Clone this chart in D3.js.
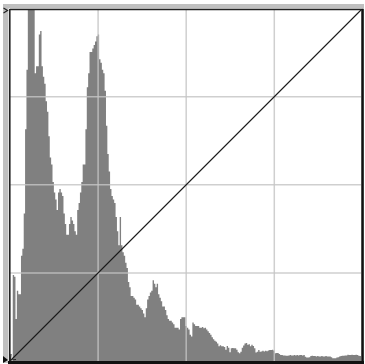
<!DOCTYPE html>
<html>
<head>
<meta charset="utf-8">
<script src="https://cdn.jsdelivr.net/npm/d3@7"></script>
<style>
html,body{margin:0;padding:0;background:#fff;}
svg{display:block;}
</style>
</head>
<body>
<svg id="chart" width="365" height="364"></svg>
<script>
// Histogram heights (percent of plot height) for the 256 tonal levels
const histValues = [
  0, 0, 24.5, 24, 12, 20, 19, 19, 30, 32,
  42, 66, 83, 115, 130, 120, 125, 110, 82, 84,
  84, 93, 94, 84, 81, 79, 74, 71, 64, 58,
  56, 51, 48, 46, 43, 48, 49, 48, 47, 42,
  39, 36, 36, 39, 41, 40, 39, 37, 36, 43,
  45, 48, 51, 56, 56, 66, 78, 82, 88, 88,
  89, 90, 91, 92.5, 93, 86, 85, 83, 82, 77,
  67, 59, 54, 49, 47, 46, 45, 41, 37, 33,
  41, 33, 31, 30, 28, 26.5, 22.5, 21, 18.5, 18.5,
  18, 17.5, 16, 16, 15.5, 15, 14.5, 13.5, 12.5, 15,
  17.5, 18.5, 19.5, 20, 23, 22, 21, 22, 19, 18,
  17, 15.5, 15.5, 14.5, 13, 12, 11.5, 11.5, 11, 10.5,
  9.5, 9.5, 9.5, 9, 12, 12.5, 12.5, 12.5, 10, 9.5,
  9, 7.5, 7, 11, 10.5, 10, 10, 10, 9.5, 9.5,
  9.7, 9.3, 9.5, 9, 8.5, 8, 7.5, 6.8, 6.2, 5.8,
  5.5, 5, 4.2, 4.5, 4.2, 4.2, 4, 3.2, 4.3, 3.8,
  2.5, 3.6, 3.7, 3.6, 3.6, 3.2, 2.5, 2.2, 2.6, 3.8,
  4.4, 5, 5.1, 4.6, 4.8, 4.2, 4.6, 4.3, 3.6, 2.4,
  2.6, 3.1, 2.6,
  2.7, 2.9, 2.7, 2.9, 2.8, 3.0, 3.1, 3.1, 3.2, 3.0,
  2.2, 2.3, 2.3, 2.0,
  1.7, 1.7, 1.6, 1.6, 1.5, 1.5, 1.6, 1.7, 1.6, 1.6, 1.7, 1.6, 1.7, 1.6, 1.7,
  1.7, 1.6, 1.7, 1.2,
  1.0, 1.0, 1.1,
  1.4, 1.5, 1.4, 1.4, 1.3, 1.4, 1.3, 1.3, 1.4, 1.3, 1.3, 1.4, 1.3, 1.3, 1.3,
  1.1, 0.8, 0.8, 0.8, 1.0, 1.1,
  1.3, 1.4, 1.5, 1.5, 1.6, 1.6,
  1.8, 1.7, 1.7, 1.8, 1.7, 1.7, 1.8, 1.7, 1.5, 1.4
];
// Grid divisions (input/output levels)
const gridLevels = [64, 128, 192];
// Curve points (identity curve): [input, output]
const curvePoints = [[0, 0], [255, 255]];

const svg = d3.select("#chart");
const L = 10, R = 361, T = 10, B = 361;

const xBin = d3.scaleLinear().domain([0, histValues.length]).range([L, R]);
const yHist = d3.scaleLinear().domain([0, 100]).range([B, T]).clamp(true);
const xLev = d3.scaleLinear().domain([0, 255]).range([L, R]);
const yLev = d3.scaleLinear().domain([0, 255]).range([B, T]);

// Outer sunken frame
svg.append("rect").attr("x", 3).attr("y", 4).attr("width", 361).attr("height", 359).attr("fill", "#c0c0c0");
svg.append("rect").attr("x", 8.5).attr("y", 8.5).attr("width", 354).attr("height", 354).attr("fill", "#ffffff");
svg.append("rect").attr("x", L).attr("y", T).attr("width", R - L).attr("height", B - T).attr("fill", "#ffffff");

// Histogram
const pts = histValues.map((v, i) => [i, v]);
pts.push([histValues.length, histValues[histValues.length - 1]]);
const area = d3.area()
  .curve(d3.curveStepAfter)
  .x(d => xBin(d[0]))
  .y0(B)
  .y1(d => yHist(d[1]));
svg.append("path").datum(pts).attr("d", area).attr("fill", "#808080");

// Grid
const grid = svg.append("g").attr("stroke", "#c5c5c5").attr("stroke-opacity", 0.82).attr("stroke-width", 1.5);
grid.selectAll("line.v").data(gridLevels).join("line")
  .attr("x1", d => xLev(d)).attr("x2", d => xLev(d)).attr("y1", T).attr("y2", B);
grid.selectAll("line.h").data(gridLevels).join("line").attr("class", "h")
  .attr("y1", d => yLev(d)).attr("y2", d => yLev(d)).attr("x1", L).attr("x2", R);

// Curve
const line = d3.line().x(d => xLev(d[0])).y(d => yLev(d[1]));
svg.append("path").datum(curvePoints).attr("d", line)
  .attr("fill", "none").attr("stroke", "#1a1a1a").attr("stroke-width", 1.1);

// Inner frame lines
svg.append("line").attr("x1", L).attr("x2", R + 2).attr("y1", T - 0.5).attr("y2", T - 0.5).attr("stroke", "#222").attr("stroke-width", 1.5);
svg.append("line").attr("x1", L - 0.2).attr("x2", L - 0.2).attr("y1", T - 1).attr("y2", B + 2).attr("stroke", "#222").attr("stroke-width", 1.6);
svg.append("line").attr("x1", L - 2).attr("x2", R + 3).attr("y1", B + 1.5).attr("y2", B + 1.5).attr("stroke", "#111").attr("stroke-width", 3);
svg.append("line").attr("x1", R + 1.5).attr("x2", R + 1.5).attr("y1", T - 1).attr("y2", B + 3).attr("stroke", "#111").attr("stroke-width", 2.5);

// Small markers
svg.append("path").attr("d", "M3.5,8 L7.5,10.5 L3.5,13").attr("fill", "none").attr("stroke", "#222").attr("stroke-width", 1.2);
svg.append("path").attr("d", "M3,356 L8,360 L3,363 Z").attr("fill", "#111");
svg.append("path").attr("d", "M11,354 L10.5,360 L16,359.5").attr("fill", "none").attr("stroke", "#222").attr("stroke-width", 1.1);
</script>
</body>
</html>
